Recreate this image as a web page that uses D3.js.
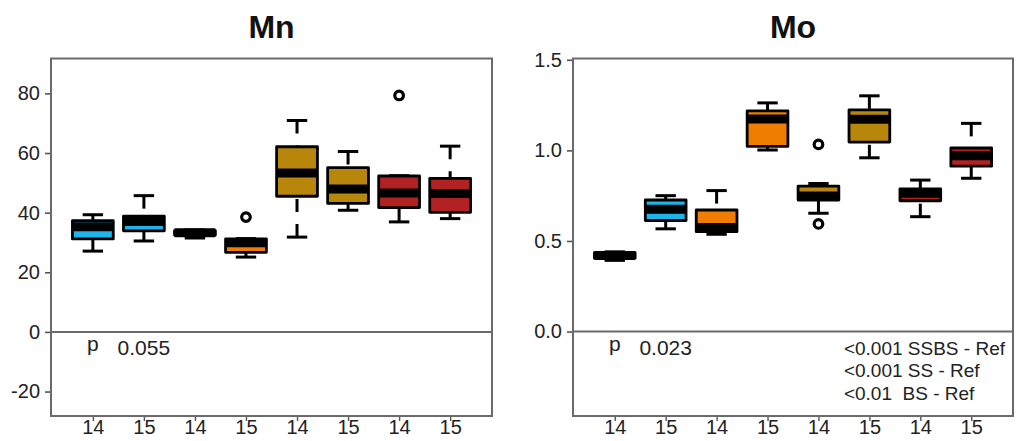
<!DOCTYPE html>
<html>
<head>
<meta charset="utf-8">
<script src="https://cdn.jsdelivr.net/npm/d3@7"></script>
<style>
  body { margin: 0; background: #fff; }
  svg { display: block; font-family: "Liberation Sans", Arial, sans-serif; }
</style>
</head>
<body>
<div id="vis"></div>
<script>
// page size
const FRAME_WIDTH = 1016
const FRAME_HEIGHT = 441

// categories (x positions 1..8) and their tick labels
const yearLabels = ["14", "15", "14", "15", "14", "15", "14", "15"]
const boxColors = ["#1fb4ea", "#1fb4ea", "#f07c00", "#f07c00", "#b8860b", "#b8860b", "#b22222", "#b22222"]

// Mn panel: whisker low, Q1, median, Q3, whisker high, outliers
const mnLow  = [27.1, 30.5, 31.5, 25.1, 31.8, 40.8, 36.9, 38.0]
const mnQ1   = [31.2, 33.9, 32.5, 26.7, 45.5, 43.1, 41.7, 40.1]
const mnMed  = [35.3, 37.0, 33.3, 29.9, 53.3, 47.9, 46.6, 46.4]
const mnQ3   = [37.3, 38.8, 34.0, 31.2, 62.1, 55.1, 52.3, 51.5]
const mnHigh = [39.3, 45.7, 34.2, 31.3, 70.9, 60.5, 52.4, 62.3]
const mnOut  = [[], [], [], [38.5], [], [], [79.3], []]
const mnTicks = [-20, 0, 20, 40, 60, 80]

// Mo panel
const moLow  = [0.393, 0.567, 0.537, 1.002, 0.653, 0.959, 0.634, 0.846]
const moQ1   = [0.405, 0.613, 0.551, 1.022, 0.726, 1.046, 0.722, 0.913]
const moMed  = [0.420, 0.675, 0.574, 1.173, 0.748, 1.172, 0.763, 0.970]
const moQ3   = [0.435, 0.726, 0.671, 1.218, 0.803, 1.224, 0.788, 1.013]
const moHigh = [0.440, 0.750, 0.778, 1.262, 0.817, 1.301, 0.836, 1.149]
const moOut  = [[], [], [], [], [1.033, 0.594], [], [], []]
const moTicks = [0, 0.5, 1.0, 1.5]

// annotation texts
const mnP = "0.055"
const moP = "0.023"
const moNotes = ["<0.001 SSBS - Ref", "<0.001 SS - Ref", "<0.01  BS - Ref"]

const svg = d3.select("#vis")
  .append("svg")
  .attr("width", FRAME_WIDTH)
  .attr("height", FRAME_HEIGHT)

function drawPanel(opt) {
  const x = d3.scaleLinear().domain([0.18, 8.82]).range([opt.left, opt.right])
  const y = d3.scaleLinear().domain(opt.domain).range([opt.bottom, opt.top])
  const g = svg.append("g")
  const halfW = (x(1.4) - x(1))

  // title
  g.append("text")
    .attr("x", (opt.left + opt.right) / 2)
    .attr("y", 38)
    .attr("text-anchor", "middle")
    .attr("font-size", "32px")
    .attr("font-weight", "bold")
    .attr("fill", "#111")
    .text(opt.title)

  // y axis
  const ya = g.append("g")
    .attr("transform", "translate(" + opt.left + ",0)")
    .call(d3.axisLeft(y).tickValues(opt.ticks).tickSize(6).tickPadding(5).tickFormat(opt.fmt))
  ya.select(".domain").remove()
  ya.selectAll("line").attr("stroke", "#555").attr("stroke-width", 1.6)
  ya.selectAll("text").attr("font-size", "20px").attr("fill", "#222")
    .attr("font-family", "Liberation Sans, Arial, sans-serif")

  // x axis
  const xa = g.append("g")
    .attr("transform", "translate(0," + opt.bottom + ")")
    .call(d3.axisBottom(x).tickValues(d3.range(1, 9)).tickSize(5).tickPadding(-1)
      .tickFormat((d, i) => yearLabels[i]))
  xa.select(".domain").remove()
  xa.selectAll("line").attr("stroke", "#555").attr("stroke-width", 1.4)
  xa.selectAll("text").attr("font-size", "20px").attr("fill", "#222")
    .attr("font-family", "Liberation Sans, Arial, sans-serif")

  // zero line
  g.append("line")
    .attr("x1", opt.left).attr("x2", opt.right)
    .attr("y1", y(0)).attr("y2", y(0))
    .attr("stroke", "#6a6a6a").attr("stroke-width", 2)

  const data = d3.range(8).map(i => ({
    pos: i + 1, lo: opt.lo[i], q1: opt.q1[i], med: opt.med[i],
    q3: opt.q3[i], hi: opt.hi[i], out: opt.out[i], color: boxColors[i]
  }))

  const box = g.selectAll(".box").data(data).enter().append("g").attr("class", "box")

  // dashed whiskers, drawn from the whisker end toward the box
  box.append("line")
    .attr("x1", d => x(d.pos)).attr("x2", d => x(d.pos))
    .attr("y1", d => y(d.hi)).attr("y2", d => y(d.q3))
    .attr("stroke", "#000").attr("stroke-width", 3).attr("stroke-dasharray", "13,12")
  box.append("line")
    .attr("x1", d => x(d.pos)).attr("x2", d => x(d.pos))
    .attr("y1", d => y(d.lo)).attr("y2", d => y(d.q1))
    .attr("stroke", "#000").attr("stroke-width", 3).attr("stroke-dasharray", "13,12")

  // staples
  box.append("line")
    .attr("x1", d => x(d.pos) - halfW / 2).attr("x2", d => x(d.pos) + halfW / 2)
    .attr("y1", d => y(d.hi)).attr("y2", d => y(d.hi))
    .attr("stroke", "#000").attr("stroke-width", 3)
  box.append("line")
    .attr("x1", d => x(d.pos) - halfW / 2).attr("x2", d => x(d.pos) + halfW / 2)
    .attr("y1", d => y(d.lo)).attr("y2", d => y(d.lo))
    .attr("stroke", "#000").attr("stroke-width", 3)

  // box
  box.append("rect")
    .attr("x", d => x(d.pos) - halfW)
    .attr("width", 2 * halfW)
    .attr("y", d => y(d.q3))
    .attr("height", d => y(d.q1) - y(d.q3))
    .attr("fill", d => d.color)
    .attr("stroke", "#000").attr("stroke-width", 2.8).attr("stroke-linejoin", "round")

  // median
  box.append("line")
    .attr("x1", d => x(d.pos) - halfW).attr("x2", d => x(d.pos) + halfW)
    .attr("y1", d => y(d.med)).attr("y2", d => y(d.med))
    .attr("stroke", "#000").attr("stroke-width", 9)

  // outliers
  box.selectAll("circle").data(d => d.out.map(v => ({ pos: d.pos, v: v }))).enter()
    .append("circle")
    .attr("cx", d => x(d.pos)).attr("cy", d => y(d.v))
    .attr("r", 4.3).attr("fill", "none").attr("stroke", "#000").attr("stroke-width", 3.2)

  // p label
  g.append("text")
    .attr("x", x(1)).attr("y", y(0) + 19)
    .attr("text-anchor", "middle").attr("font-size", "21px").attr("fill", "#222")
    .text("p")
  g.append("text")
    .attr("x", x(2)).attr("y", y(0) + 23)
    .attr("text-anchor", "middle").attr("font-size", "21px").attr("fill", "#222")
    .text(opt.p)

  // extra notes
  g.selectAll(".note").data(opt.notes).enter().append("text")
    .attr("class", "note")
    .attr("x", x(5.5))
    .attr("y", (d, i) => y(0) + 23 + i * 22.8)
    .attr("font-size", "19px").attr("fill", "#222")
    .style("white-space", "pre")
    .attr("xml:space", "preserve")
    .text(d => d)

  // frame
  g.append("rect")
    .attr("x", opt.left).attr("y", opt.top)
    .attr("width", opt.right - opt.left).attr("height", opt.bottom - opt.top)
    .attr("fill", "none").attr("stroke", "#6a6a6a").attr("stroke-width", 2)
}

drawPanel({
  title: "Mn", left: 51, right: 492, top: 58.5, bottom: 416,
  domain: [-28.2, 91.7], ticks: mnTicks, fmt: d => String(d),
  lo: mnLow, q1: mnQ1, med: mnMed, q3: mnQ3, hi: mnHigh, out: mnOut,
  p: mnP, notes: []
})

drawPanel({
  title: "Mo", left: 573, right: 1013, top: 58.5, bottom: 416,
  domain: [-0.466, 1.507], ticks: moTicks, fmt: d => d.toFixed(1),
  lo: moLow, q1: moQ1, med: moMed, q3: moQ3, hi: moHigh, out: moOut,
  p: moP, notes: moNotes
})
</script>
</body>
</html>
